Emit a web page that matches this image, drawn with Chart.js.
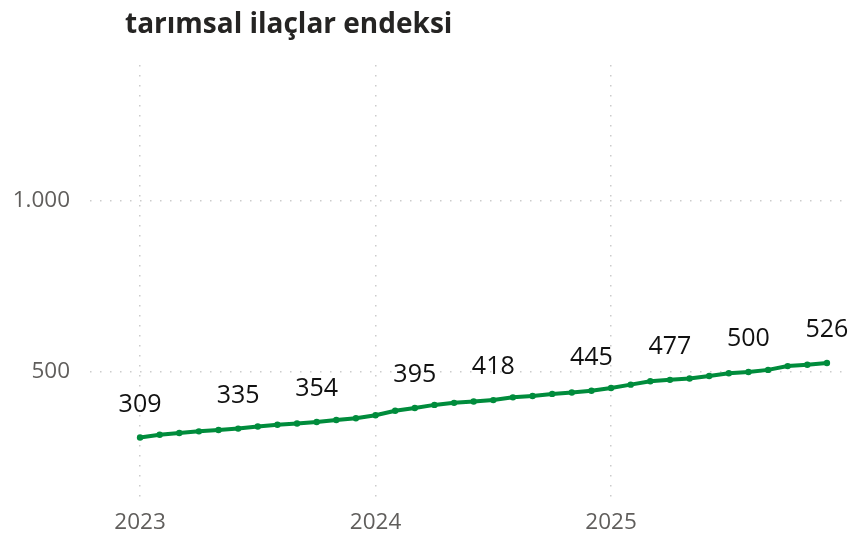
<!DOCTYPE html>
<html>
<head>
<meta charset="utf-8">
<script src="https://cdn.jsdelivr.net/npm/chart.js@4"></script>
<style>
  html, body { margin: 0; padding: 0; background: #fff; }
  #wrap { width: 849px; height: 537px; }
</style>
</head>
<body>
<div id="wrap"><canvas id="chart" width="849" height="537"></canvas></div>
<script>
const title = 'tarımsal ilaçlar endeksi';

// months from Jan 2023 to Dec 2025, x = month index
const months = [
  '2023-01','2023-02','2023-03','2023-04','2023-05','2023-06','2023-07','2023-08','2023-09','2023-10','2023-11','2023-12',
  '2024-01','2024-02','2024-03','2024-04','2024-05','2024-06','2024-07','2024-08','2024-09','2024-10','2024-11','2024-12',
  '2025-01','2025-02','2025-03','2025-04','2025-05','2025-06','2025-07','2025-08','2025-09','2025-10','2025-11','2025-12'
];
const values = [
  309, 317, 322, 327, 331, 335, 341, 346, 350, 354, 360, 365,
  374, 387, 395, 404, 410, 414, 418, 426, 430, 436, 440, 445,
  453, 463, 473, 477, 481, 488, 496, 500, 506, 517, 521, 526
];
// points that carry a value label
const labelledMonths = ['2023-01','2023-06','2023-10','2024-03','2024-07','2024-12','2025-04','2025-08','2025-12'];

const yearTicks = [0, 12, 24];
const yearLabels = ['2023', '2024', '2025'];
const valueTicks = [500, 1000];

const green = '#008c3c';
const fontFamily = '"Open Sans", "Noto Sans", sans-serif';

const points = values.map((v, i) => ({ x: i, y: v }));

const dataLabels = {
  id: 'dataLabels',
  afterDatasetsDraw(chart) {
    const ctx = chart.ctx;
    const meta = chart.getDatasetMeta(0);
    ctx.save();
    ctx.font = '25px ' + fontFamily;
    ctx.fillStyle = '#111';
    ctx.textAlign = 'center';
    ctx.textBaseline = 'middle';
    labelledMonths.forEach(m => {
      const i = months.indexOf(m);
      const el = meta.data[i];
      ctx.fillText(String(values[i]), el.x, el.y - 33);
    });
    ctx.restore();
  }
};

const titlePlugin = {
  id: 'titleText',
  afterDraw(chart) {
    const ctx = chart.ctx;
    ctx.save();
    ctx.font = 'bold 28px ' + fontFamily;
    ctx.fillStyle = '#252423';
    ctx.textAlign = 'left';
    ctx.textBaseline = 'middle';
    ctx.fillText(title, 125, 25);
    ctx.restore();
  }
};

new Chart(document.getElementById('chart'), {
  type: 'line',
  data: {
    datasets: [{
      data: points,
      borderColor: green,
      backgroundColor: green,
      borderWidth: 4,
      pointRadius: 3.2,
      pointBackgroundColor: green,
      pointBorderWidth: 0,
      tension: 0
    }]
  },
  options: {
    responsive: false,
    animation: false,
    layout: { padding: { top: 65, right: 1, left: 0, bottom: 0 } },
    plugins: {
      legend: { display: false },
      title: { display: false },
      tooltip: { enabled: false }
    },
    scales: {
      x: {
        type: 'linear',
        min: -2.55,
        max: 35.92,
        afterBuildTicks: (scale) => { scale.ticks = yearTicks.map(v => ({ value: v })); },
        afterFit: (scale) => { scale.height = 37; },
        ticks: {
          padding: 9,
          color: '#605e5c',
          font: { size: 22.5, family: fontFamily },
          callback: (v) => yearLabels[yearTicks.indexOf(v)]
        },
        grid: { color: '#cccccc', lineWidth: 1.5, drawTicks: false },
        border: { display: false, dash: [1.5, 8.5] }
      },
      y: {
        min: 127,
        max: 1394,
        afterBuildTicks: (scale) => { scale.ticks = valueTicks.map(v => ({ value: v })); },
        afterFit: (scale) => { scale.width = 90; },
        ticks: {
          padding: 20,
          color: '#605e5c',
          font: { size: 22.5, family: fontFamily },
          callback: (v) => v.toLocaleString('tr-TR')
        },
        grid: { color: '#cccccc', lineWidth: 1.5, drawTicks: false },
        border: { display: false, dash: [1.5, 8.5] }
      }
    }
  },
  plugins: [dataLabels, titlePlugin]
});
</script>
</body>
</html>
